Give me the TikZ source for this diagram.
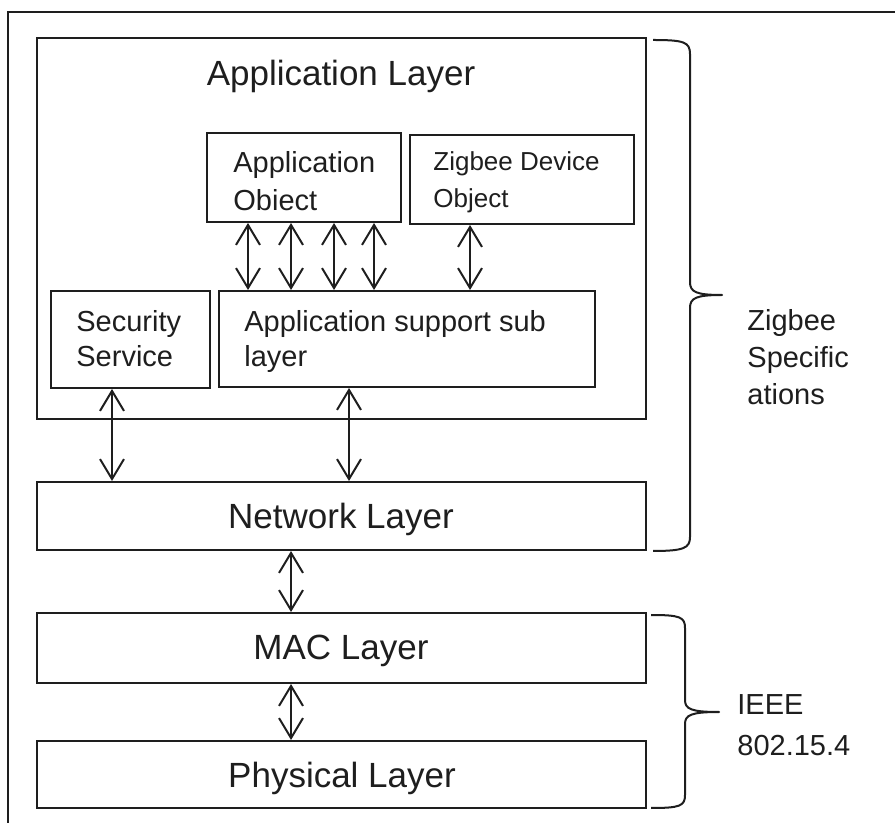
\documentclass[tikz,border=0pt]{standalone}
\usepackage{fontspec}
\setmainfont{Liberation Sans}
\usetikzlibrary{arrows.meta,fit}
\definecolor{ink}{HTML}{1E1E1E}
\begin{document}
\begin{tikzpicture}[x=0.5pt,y=-0.5pt,
  box/.style={draw=ink, line width=1pt, inner sep=0pt},
  big/.style={font=\fontsize{17.5}{21}\selectfont, text=ink, inner sep=0pt},
  mid/.style={font=\fontsize{14.5}{18}\selectfont, text=ink, inner sep=0pt, anchor=base west},
  small/.style={font=\fontsize{13}{16}\selectfont, text=ink, inner sep=0pt, anchor=base west},
  dar/.style={draw=ink, line width=1pt, {Straight Barb[length=10pt,width=12pt,line width=1pt]}-{Straight Barb[length=10pt,width=12pt,line width=1pt]}},
  brace/.style={draw=ink, line width=1pt, line join=round}]
\useasboundingbox (0,0) rectangle (895,823);
\clip (0,0) rectangle (895,823);
% outer frame (only left and top edges are visible)
\draw[draw=ink, line width=1pt] (8,12) rectangle (930,860);
% boxes
\node[box, fit={(37,38) (646,419)}] (app) {};
\node[box, fit={(207,133) (401,222)}] (ao) {};
\node[box, fit={(410,135) (634,224)}] (zdo) {};
\node[box, fit={(51,291) (210,388)}] (sec) {};
\node[box, fit={(219,291) (595,387)}] (aps) {};
\node[box, fit={(37,482) (646,550)}] (net) {};
\node[box, fit={(37,613) (646,683)}] (mac) {};
\node[box, fit={(37,741) (646,808)}] (phy) {};
% texts
\node[big, anchor=base] (tapp) at (341,86) {Application Layer};
\node[big, anchor=base] (tnet) at (341,529) {Network Layer};
\node[big, anchor=base] (tmac) at (341,660) {MAC Layer};
\node[big, anchor=base] (tphy) at (342,787) {Physical Layer};
\node[mid] (ao1) at (233,173) {Application};
\node[mid] (ao2) at (233,211) {Obiect};
\node[small] (zd1) at (433,171) {Zigbee Device};
\node[small] (zd2) at (433,208) {Object};
\node[mid] (se1) at (76,332) {Security};
\node[mid] (se2) at (76,367) {Service};
\node[mid] (ap1) at (244,332) {Application support sub};
\node[mid] (ap2) at (244,367) {layer};
\node[mid] (zs1) at (747,331) {Zigbee};
\node[mid] (zs2) at (747,368) {Specific};
\node[mid] (zs3) at (747,405) {ations};
\node[mid] (ie1) at (737,714) {IEEE};
\node[mid] (ie2) at (737,755) {802.15.4};
% arrow columns
\coordinate (c1) at (248,0);
\coordinate (c2) at (291,0);
\coordinate (c3) at (334,0);
\coordinate (c4) at (374,0);
\coordinate (c5) at (470,0);
\coordinate (c6) at (112,0);
\coordinate (c7) at (349,0);
\draw[dar] (c1 |- ao.south) -- (c1 |- aps.north);
\draw[dar] (c2 |- ao.south) -- (c2 |- aps.north);
\draw[dar] (c3 |- ao.south) -- (c3 |- aps.north);
\draw[dar] (c4 |- ao.south) -- (c4 |- aps.north);
\draw[dar] (c5 |- zdo.south) -- (c5 |- aps.north);
\draw[dar] (c6 |- sec.south) -- (c6 |- net.north);
\draw[dar] (c7 |- aps.south) -- (c7 |- net.north);
\draw[dar] (c2 |- net.south) -- (c2 |- mac.north);
\draw[dar] (c2 |- mac.south) -- (c2 |- phy.north);
% braces
\draw[brace] (653,40) .. controls (684,40) and (690,42) .. (690,54) -- (690,282)
  .. controls (690,292) and (696,295) .. (722,295)
  .. controls (696,295) and (690,298) .. (690,308) -- (690,537)
  .. controls (690,548) and (684,551) .. (653,551);
\draw[brace] (651,615) .. controls (680,615) and (685,617) .. (685,628) -- (685,700)
  .. controls (685,709) and (691,712) .. (719,712)
  .. controls (691,712) and (685,715) .. (685,724) -- (685,795)
  .. controls (685,806) and (680,808) .. (651,808);
\end{tikzpicture}
\end{document}
